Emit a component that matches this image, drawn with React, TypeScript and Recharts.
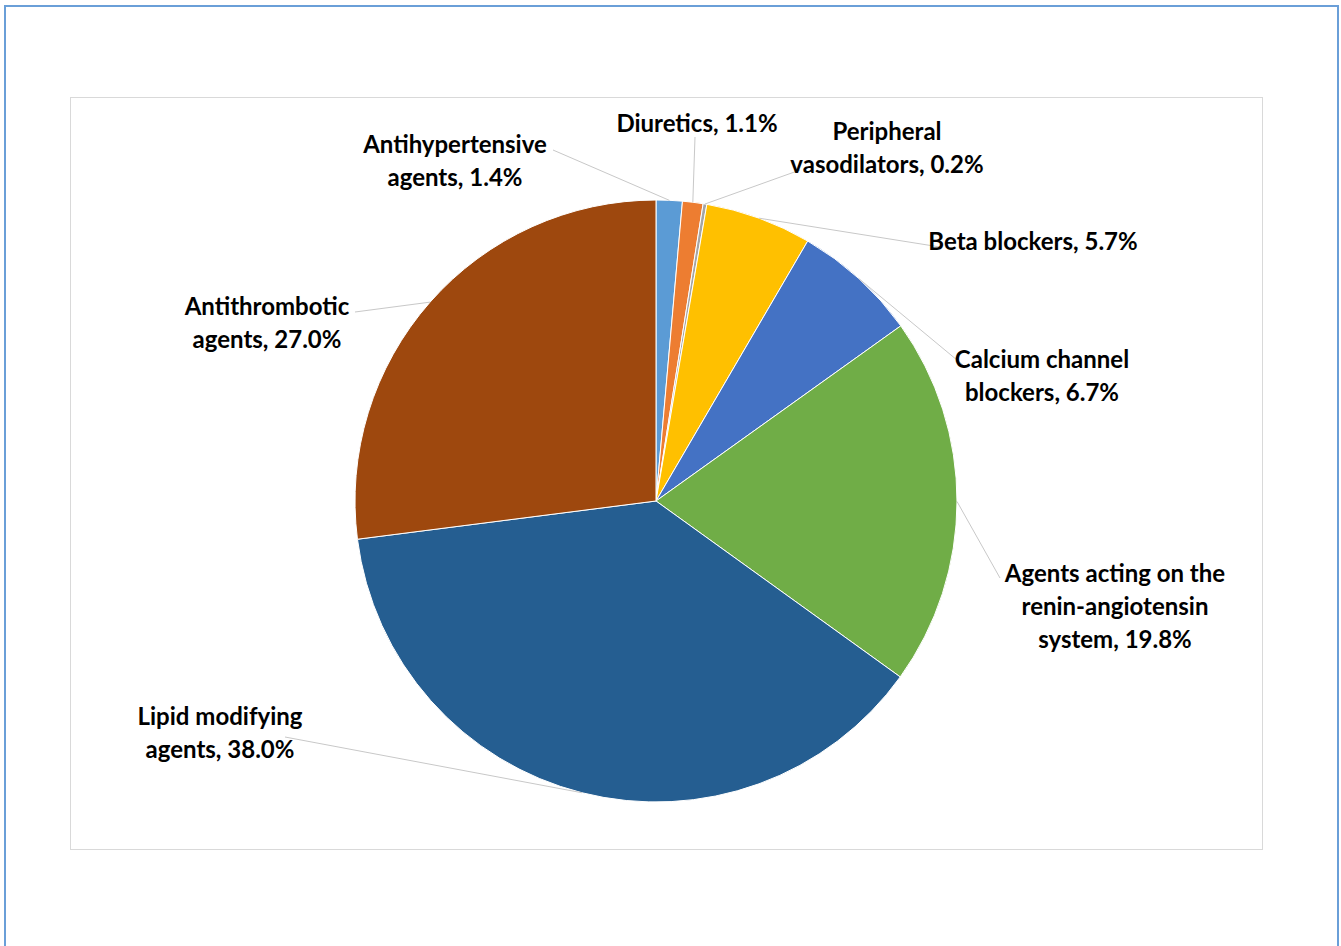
import { Cell, Pie, PieChart } from "recharts";

const categories = [
  "Antihypertensive agents",
  "Diuretics",
  "Peripheral vasodilators",
  "Beta blockers",
  "Calcium channel blockers",
  "Agents acting on the renin-angiotensin system",
  "Lipid modifying agents",
  "Antithrombotic agents",
];
const shares = [1.4, 1.1, 0.2, 5.7, 6.7, 19.8, 38.0, 27.0];

const colors = ["#5B9BD5", "#ED7D31", "#A5A5A5", "#FFC000", "#4472C4", "#70AD47", "#255E91", "#9E480E"];

// where each data label sits: text centre, first line y, leader end, wrap width (chars)
const labelPos = [
  { x: 455, y: 143, lx: 553, ly: 150, wrap: 16 },
  { x: 697, y: 122, lx: 695, ly: 137, wrap: 30 },
  { x: 887, y: 130, lx: 800, ly: 170, wrap: 18 },
  { x: 1033, y: 240, lx: 940, ly: 247, wrap: 30 },
  { x: 1042, y: 358, lx: 963, ly: 365, wrap: 15 },
  { x: 1115, y: 572, lx: 1000, ly: 578, wrap: 20 },
  { x: 220, y: 715, lx: 285, ly: 737, wrap: 15 },
  { x: 267, y: 305, lx: 355, ly: 312, wrap: 14 },
];

const data = categories.map((name, i) => ({ name, value: shares[i] }));

const W = 1341;
const H = 946;
const RAD = Math.PI / 180;
const LINE = 33;

function wrapText(text: string, max: number) {
  const words = text.split(" ");
  const lines: string[] = [];
  let cur = "";
  for (const w of words) {
    const next = cur ? cur + " " + w : w;
    if (next.length > max && cur) {
      lines.push(cur);
      cur = w;
    } else cur = next;
  }
  if (cur) lines.push(cur);
  return lines;
}

const renderLabel = (p: any) => {
  const pos = labelPos[p.index];
  const sx = p.cx + p.outerRadius * Math.cos(-p.midAngle * RAD);
  const sy = p.cy + p.outerRadius * Math.sin(-p.midAngle * RAD);
  const lines = wrapText(`${p.name}, ${p.value.toFixed(1)}%`, pos.wrap);
  return (
    <g key={"lbl" + p.index}>
      <line x1={sx} y1={sy} x2={pos.lx} y2={pos.ly} stroke="#c8c8c8" strokeWidth={1} />
      <text
        x={pos.x}
        y={pos.y}
        textAnchor="middle"
        fontFamily="Lato, sans-serif"
        fontWeight="bold"
        fontSize={24}
        fill="#000"
      >
        {lines.map((t, j) => (
          <tspan key={j} x={pos.x} y={pos.y + j * LINE} dominantBaseline="central">
            {t}
          </tspan>
        ))}
      </text>
    </g>
  );
};

export default function App() {
  return (
    <div style={{ position: "absolute", left: 0, top: 0, width: W, height: H, background: "#fff", overflow: "hidden" }}>
      <div
        style={{
          position: "absolute",
          left: 4,
          top: 5,
          width: 1331,
          height: 950,
          border: "2px solid #6A9FD8",
        }}
      />
      <div
        style={{
          position: "absolute",
          left: 70,
          top: 97,
          width: 1191,
          height: 751,
          border: "1px solid #D9D9D9",
        }}
      />
      <div style={{ position: "absolute", left: 0, top: 0 }}>
        <PieChart width={W} height={H} margin={{ top: 0, right: 0, bottom: 0, left: 0 }}>
          <Pie
            data={data}
            dataKey="value"
            nameKey="name"
            cx={656}
            cy={501}
            outerRadius={301}
            startAngle={90}
            endAngle={-270}
            stroke="#fff"
            strokeWidth={1}
            label={renderLabel}
            labelLine={false}
            isAnimationActive={false}
          >
            {data.map((d, i) => (
              <Cell key={d.name} fill={colors[i]} />
            ))}
          </Pie>
        </PieChart>
      </div>
    </div>
  );
}
